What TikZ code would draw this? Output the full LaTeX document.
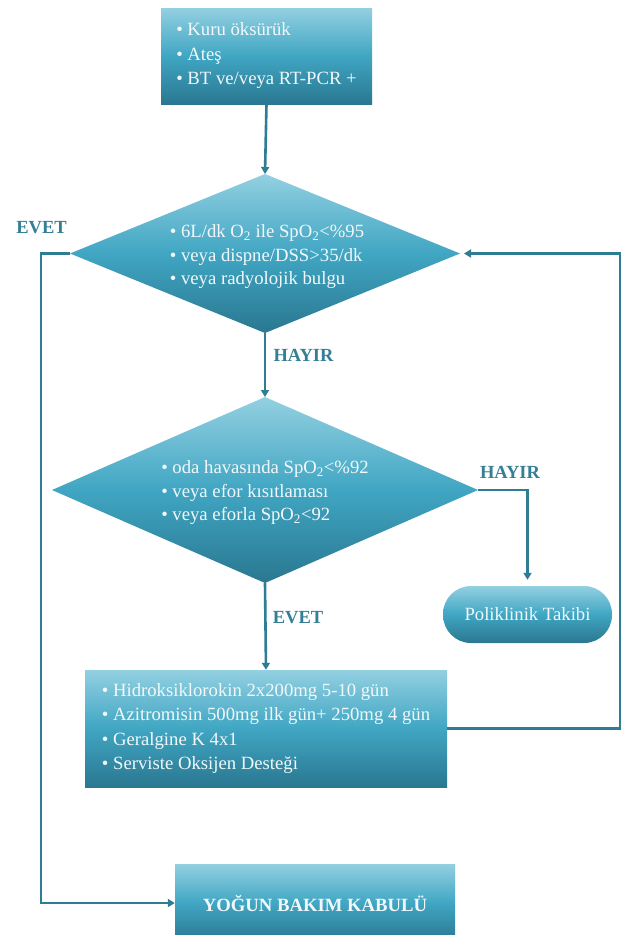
\documentclass[tikz,border=0pt]{standalone}
\usepackage{fontspec}
\setmainfont{Liberation Serif}
\usetikzlibrary{shapes.geometric,arrows.meta}
\definecolor{linec}{HTML}{2E7D95}
\definecolor{labc}{HTML}{347F95}
\definecolor{shtop}{HTML}{93D0E1}
\definecolor{shmid}{HTML}{40A6C3}
\definecolor{shbot}{HTML}{2A7790}
\definecolor{txtc}{HTML}{F2F8FA}
\tikzset{
  shade3/.style={top color=shtop, bottom color=shbot, middle color=shmid, draw=none},
  boxnode/.style={shade3, rectangle, inner sep=0pt, text=txtc, align=left,
    font=\fontsize{18.7}{24.5}\selectfont},
  dianode/.style={shade3, diamond, inner sep=0pt, outer sep=0pt},
  diatext/.style={text=txtc, align=left, inner sep=0pt,
    font=\fontsize{18.7}{23.5}\selectfont},
  pillnode/.style={shade3, rectangle, rounded corners=28pt, inner sep=0pt,
    text=txtc, font=\fontsize{18.7}{24}\selectfont},
  lab/.style={text=labc, font=\fontsize{18.5}{22}\selectfont\bfseries, inner sep=0pt},
  conn/.style={draw=linec, line width=2.6pt, -{Triangle[width=8pt,length=7pt]}},
}
\begin{document}
\begin{tikzpicture}[x=1pt,y=-1pt]
\clip (0,0) rectangle (625,935);
\fill[white] (0,0) rectangle (625,935);
% nodes
\node[boxnode, minimum width=211pt, minimum height=96pt] (top) at (266.5,56)
  {\textbullet\ Kuru öksürük\\ \textbullet\ Ateş\\ \textbullet\ BT ve/veya RT-PCR +};
\node[dianode, minimum width=390pt, minimum height=159pt] (d1) at (265,253.5) {};
\node[diatext] (d1t) at (267,257)
  {\textbullet\ 6L/dk O\textsubscript{2} ile SpO\textsubscript{2}<\%95\\ \textbullet\ veya dispne/DSS>35/dk\\ \textbullet\ veya radyolojik bulgu};
\node[dianode, minimum width=426pt, minimum height=186pt] (d2) at (265,490) {};
\node[diatext] (d2t) at (265,493)
  {\textbullet\ oda havasında SpO\textsubscript{2}<\%92\\ \textbullet\ veya efor kısıtlaması\\ \textbullet\ veya eforla SpO\textsubscript{2}<92};
\node[pillnode, minimum width=169pt, minimum height=57pt] (pol) at (527.5,614.5) {Poliklinik Takibi};
\node[boxnode, minimum width=362pt, minimum height=117pt] (tr) at (266,728.5)
  {\textbullet\ Hidroksiklorokin 2x200mg 5-10 gün\\ \textbullet\ Azitromisin 500mg ilk gün+ 250mg 4 gün\\ \textbullet\ Geralgine K 4x1\\ \textbullet\ Serviste Oksijen Desteği};
\node[boxnode, minimum width=280pt, minimum height=78pt, font=\fontsize{18.7}{24}\selectfont\bfseries] (ybk) at (315,903) {YOĞUN BAKIM KABULÜ};
% labels
\node[lab] (l1) at (41.5,228) {EVET};
\node[lab] (l2) at (303.5,355) {HAYIR};
\node[lab] (l3) at (510,472) {HAYIR};
\node[lab] (l4) at (298,618) {EVET};
% helper coordinates
\coordinate (lx) at (41,0);
\coordinate (rx) at (620,0);
% connectors
\draw[conn] (top.south) -- (d1.north);
\draw[conn] (d1.south) -- (d2.north);
\draw[conn] (d2.south) -- (tr.north);
\draw[conn, rounded corners=0pt] (d1.west) -- (d1.west -| lx) |- (ybk.west);
\draw[conn, shorten >=6pt] (d2.east) -| (pol.north);
\draw[conn, shorten >=4pt] (tr.east) -- (tr.east -| rx) |- (d1.east);
\end{tikzpicture}
\end{document}
